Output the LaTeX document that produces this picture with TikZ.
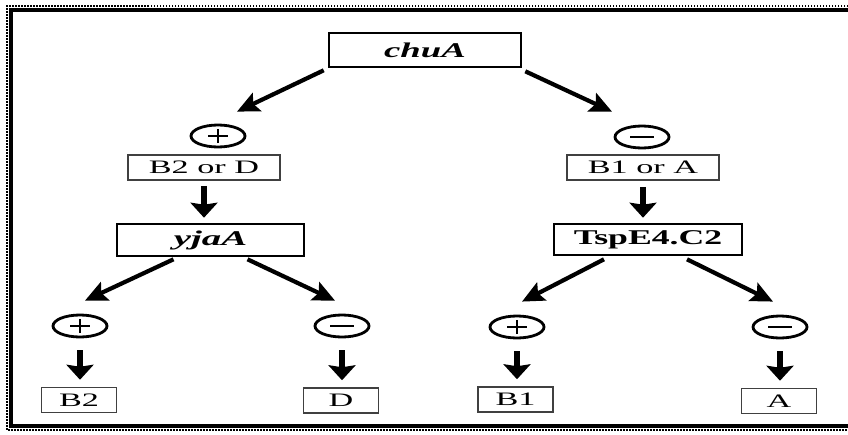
\documentclass[tikz,border=0pt]{standalone}
\usepackage{fontspec}
\setmainfont{Liberation Serif}
\usetikzlibrary{arrows.meta,shapes.geometric}

% horizontally widened text
\newcommand{\hstretch}[2]{\scalebox{#1}[1]{#2}}

\begin{document}
\begin{tikzpicture}[x=1pt,y=-1pt,
  keybox/.style={draw,line width=2.6pt,inner sep=0pt,font=\fontsize{21}{23}\selectfont\bfseries},
  groupbox/.style={draw=black!75,line width=1.5pt,inner sep=0pt,minimum height=25pt,font=\fontsize{19}{21}\selectfont},
  leafbox/.style={groupbox,minimum width=75pt},
  sign/.style={draw,ellipse,line width=2.8pt,minimum width=54pt,minimum height=22pt,inner sep=0pt},
  signbar/.style={line width=2.5pt},
  diag/.style={line width=4.2pt,-{Stealth[length=22pt,width=20pt,inset=4pt]}},
  down/.style={line width=5.5pt,-{Stealth[length=15pt,width=27pt,inset=2pt]}},
]
\useasboundingbox (0,0) rectangle (848,434);
\clip (0,0) rectangle (848,434);

% frame
\draw[line width=4pt] (860,9.5) -- (10.5,9.5) -- (10.5,425.5) -- (860,425.5);
\draw[line width=2.5pt,dash pattern=on 1.5pt off 1.5pt] (860,6) -- (7,6) -- (7,430) -- (860,430);

% boxes
\node[keybox,minimum width=192pt,minimum height=34pt] (chuA) at (425,50) {\hstretch{1.75}{\textit{chuA}}};
\node[groupbox,minimum width=152pt] (bd) at (204,167.5) {\hstretch{1.8}{B2 or D}};
\node[groupbox,minimum width=152pt] (ba) at (643,167.5) {\hstretch{1.8}{B1 or A}};
\node[keybox,minimum width=187pt,minimum height=32pt] (yjaA) at (210.5,240) {\hstretch{1.85}{\textit{yjaA}}};
\node[keybox,minimum width=188pt,minimum height=31pt] (tsp) at (648,239.5) {\hstretch{1.7}{TspE4.C2}};
\node[leafbox] (b2) at (79,400) {\hstretch{1.8}{B2}};
\node[leafbox] (d) at (341,400.5) {\hstretch{1.8}{D}};
\node[leafbox] (b1) at (515.5,399.5) {\hstretch{1.8}{B1}};
\node[leafbox] (a) at (779,401) {\hstretch{1.8}{A}};

% plus / minus marks
\node[sign] (p1) at (218,136) {};
\node[sign] (m1) at (642,137) {};
\node[sign] (p2) at (80,326) {};
\node[sign] (m2) at (342,326) {};
\node[sign] (p3) at (517,327) {};
\node[sign] (m3) at (780,327) {};
\foreach \s in {p1,p2,p3}{
  \draw[signbar] ([xshift=-10pt]\s.center) -- ([xshift=10pt]\s.center);
  \draw[signbar] ([yshift=-7pt]\s.center) -- ([yshift=7pt]\s.center);
}
\foreach \s in {m1,m2,m3}{
  \draw[signbar] ([xshift=-12pt]\s.center) -- ([xshift=12pt]\s.center);
}

% diagonal arrows
\draw[diag] ([shift={(-4,2)}]chuA.south west) -- ([shift={(19,-12)}]p1.north);
\draw[diag] ([shift={(3,3)}]chuA.south east) -- ([shift={(-30,-13)}]m1.north);
\draw[diag] ([shift={(-37,2)}]yjaA.south) -- ([shift={(5,-13)}]p2.north);
\draw[diag] ([shift={(37,2)}]yjaA.south) -- ([shift={(-7,-13)}]m2.north);
\draw[diag] ([shift={(-44,3)}]tsp.south) -- ([shift={(5,-13)}]p3.north);
\draw[diag] ([shift={(39,3)}]tsp.south) -- ([shift={(-7,-13)}]m3.north);

% vertical arrows
\draw[down,shorten >=5pt] ([yshift=-5pt]bd.south) -- (bd.south |- yjaA.north);
\draw[down,shorten >=5pt] ([yshift=-6pt]ba.south) -- (ba.south |- tsp.north);
\draw[down,shorten >=7pt] ([yshift=-12pt]p2.south) -- (p2.south |- b2.north);
\draw[down,shorten >=7pt] ([yshift=-12pt]m2.south) -- (m2.south |- d.north);
\draw[down,shorten >=7pt] ([yshift=-12pt]p3.south) -- (p3.south |- b1.north);
\draw[down,shorten >=7pt] ([yshift=-12pt]m3.south) -- (m3.south |- a.north);
\end{tikzpicture}
\end{document}
